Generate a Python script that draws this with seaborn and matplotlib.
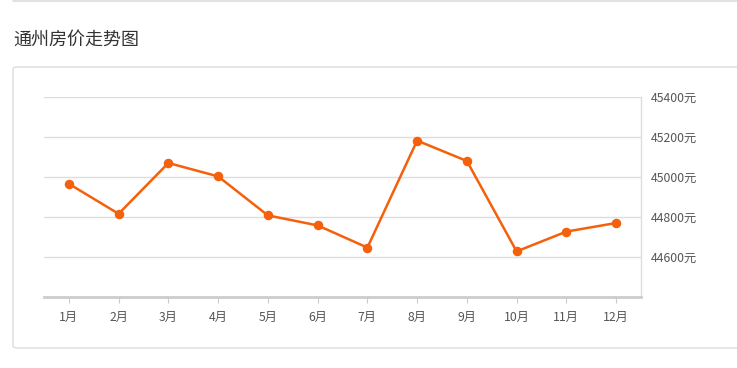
import matplotlib
matplotlib.use("Agg")
import matplotlib.pyplot as plt
from matplotlib.patches import FancyBboxPatch
from matplotlib.lines import Line2D
from matplotlib.ticker import FuncFormatter
import seaborn as sns
import pandas as pd

months = ["1月", "2月", "3月", "4月", "5月", "6月", "7月", "8月", "9月", "10月", "11月", "12月"]
prices = [44966, 44816, 45070, 45003, 44808, 44758, 44647, 45182, 45080, 44628, 44727, 44770]
y_ticks = [44600, 44800, 45000, 45200, 45400]
title = "通州房价走势图"

sns.set_theme(style="white")
plt.rcParams['font.family'] = ['Noto Sans CJK SC', 'DejaVu Sans']

W, H = 737, 368
fig = plt.figure(figsize=(W / 100, H / 100), dpi=100)
fig.patch.set_facecolor("white")

# page top rule
fig.add_artist(Line2D([13 / W, 1], [1 - 1 / H, 1 - 1 / H], color="#dddddd", lw=1.2))
# panel box (right edge runs off the picture)
box = FancyBboxPatch((13 / W, (H - 348) / H), (760 - 13) / W, (348 - 67) / H,
                     boxstyle="round,pad=0,rounding_size=0.006",
                     transform=fig.transFigure, facecolor="none",
                     edgecolor="#dcdcdc", lw=1.0, clip_on=False)
fig.patches.append(box)
fig.text(13 / W, 1 - 40 / H, title, fontsize=13, color="#333333", va="center", ha="left")

ax = fig.add_axes([44 / W, (H - 297) / H, (641 - 44) / W, (297 - 97) / H])
df = pd.DataFrame({"month": months, "price": prices})
sns.pointplot(data=df, x="month", y="price", ax=ax, color="#f4600c",
              markers="o", markersize=5.5, linewidth=1.8, errorbar=None)

ax.set_xlim(-0.5, len(months) - 0.5)
ax.set_ylim(44400, 45400)
ax.set_xlabel("")
ax.set_ylabel("")
ax.yaxis.tick_right()
ax.set_yticks(y_ticks)
ax.yaxis.set_major_formatter(FuncFormatter(lambda v, p: f"{int(v)}元"))
ax.grid(axis="y", color="#dddddd", lw=1.0)
ax.set_axisbelow(True)
for s in ["top", "left"]:
    ax.spines[s].set_visible(False)
ax.spines["right"].set_color("#dddddd")
ax.spines["right"].set_linewidth(1.0)
ax.spines["bottom"].set_color("#cccccc")
ax.spines["bottom"].set_linewidth(2.0)
ax.tick_params(axis="y", length=0, pad=7, labelsize=8.8, labelcolor="#555555")
ax.tick_params(axis="x", length=4, width=0.8, color="#cccccc", pad=6,
               labelsize=8.8, labelcolor="#555555", bottom=True)

fig.savefig("out.png", dpi=100, facecolor="white")
